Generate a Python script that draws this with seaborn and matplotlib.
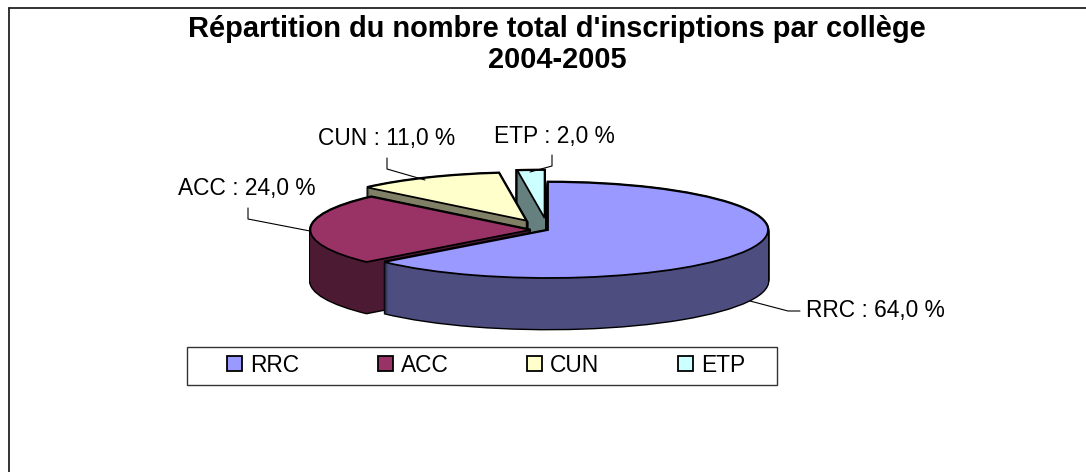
import matplotlib
matplotlib.use("Agg")
import matplotlib.pyplot as plt
from matplotlib.lines import Line2D
from matplotlib.patches import Rectangle
import seaborn as sns

# Data
categories = ["RRC", "ACC", "CUN", "ETP"]
shares = [64.0, 24.0, 11.0, 2.0]
slice_labels = ["RRC : 64,0 %", "ACC : 24,0 %", "CUN : 11,0 %", "ETP : 2,0 %"]
title_lines = ["Répartition du nombre total d'inscriptions par collège", "2004-2005"]

# Styles
top_colors = sns.color_palette(["#9999FF", "#993366", "#FFFFCC", "#CCFFFF"])
side_colors = sns.color_palette(["#4D4D80", "#4D1A33", "#808066", "#668080"])
explode = [0.0, 0.08, 0.22, 0.25]
draw_order = [3, 2, 1, 0]  # back to front

W, H = 1086, 472
CX, CY, RX, RY = 548.0, 230.0, 220.0, 48.0   # pixel geometry of the flattened pie
DEPTH = 51                                    # extrusion in pixels

sns.set_theme(style="white")
plt.rcParams["font.family"] = ["Liberation Sans", "DejaVu Sans"]

fig = plt.figure(figsize=(W / 100, H / 100), dpi=100, facecolor="white")
ax = fig.add_axes([0, 0, 1, 1])


def layer(dy_px, colors, edge, lw, base_z):
    wedges, _ = ax.pie(shares, explode=explode, colors=colors, startangle=90,
                       counterclock=False, radius=1.0,
                       center=(0, -dy_px / RY),
                       wedgeprops=dict(edgecolor=edge, linewidth=lw))
    for i, w in enumerate(wedges):
        w.set_zorder(base_z + 10 * draw_order.index(i))
        w.set_joinstyle("miter")
    return wedges


# Black silhouette, extruded colour, then the top face; ordered per slice
for k in range(DEPTH + 1):
    layer(k, ["black"] * 4, "black", 2.0, 1)
for k in range(DEPTH + 1):
    layer(k, side_colors, "none", 0, 2)
top = layer(0, top_colors, "black", 1.3, 3)

ax.set_aspect("auto")
ax.set_xlim(-CX / RX, (W - CX) / RX)
ax.set_ylim((CY - H) / RY, CY / RY)
ax.set_axis_off()


def px(x, y):
    return x / W, 1 - y / H


# Outer frame (left and top sides visible)
for xs, ys in [((9, 9), (472, 7.5)), ((9, 1086), (7.5, 7.5))]:
    fig.add_artist(Line2D([x / W for x in xs], [1 - y / H for y in ys], color="#222222", lw=1.3))

# Title
for line, y in zip(title_lines, (29, 60)):
    fig.text(*px(557, y), line, ha="center", va="center", fontsize=20.9, fontweight="bold",
             color="black", zorder=70)

# Data labels and leader lines
label_pos = [(806, 311), (178, 188), (318, 138), (494, 136)]
leaders = [
    [(800, 311), (788, 311), (750, 301)],
    [(248, 208), (248, 219), (310, 231)],
    [(387, 158), (387, 169), (425, 180)],
    [(552, 155), (552, 166), (530, 172)],
]
for text, (x, y), pts in zip(slice_labels, label_pos, leaders):
    fig.text(*px(x, y), text, ha="left", va="center", fontsize=16.4, color="black", zorder=70)
    fig.add_artist(Line2D([p[0] / W for p in pts], [1 - p[1] / H for p in pts], color="black", lw=0.8, zorder=50))

# Legend box and entries
x0, y1 = px(186.5, 385)
x1, y0 = px(777, 346.5)
fig.add_artist(Rectangle((x0, y0), x1 - x0, y1 - y0, transform=fig.transFigure,
                         facecolor="white", edgecolor="#333333", lw=1.0, zorder=55))
leg = ax.legend(top, categories, ncol=4, loc="center", bbox_to_anchor=px(486, 365),
                bbox_transform=fig.transFigure, frameon=False, fontsize=16.4,
                handlelength=0.65, handleheight=0.65, handletextpad=0.35,
                columnspacing=3.46, borderpad=0, borderaxespad=0, labelcolor="black")
leg.set_zorder(60)
fig.add_artist(leg)

fig.savefig("out.png", dpi=100)
